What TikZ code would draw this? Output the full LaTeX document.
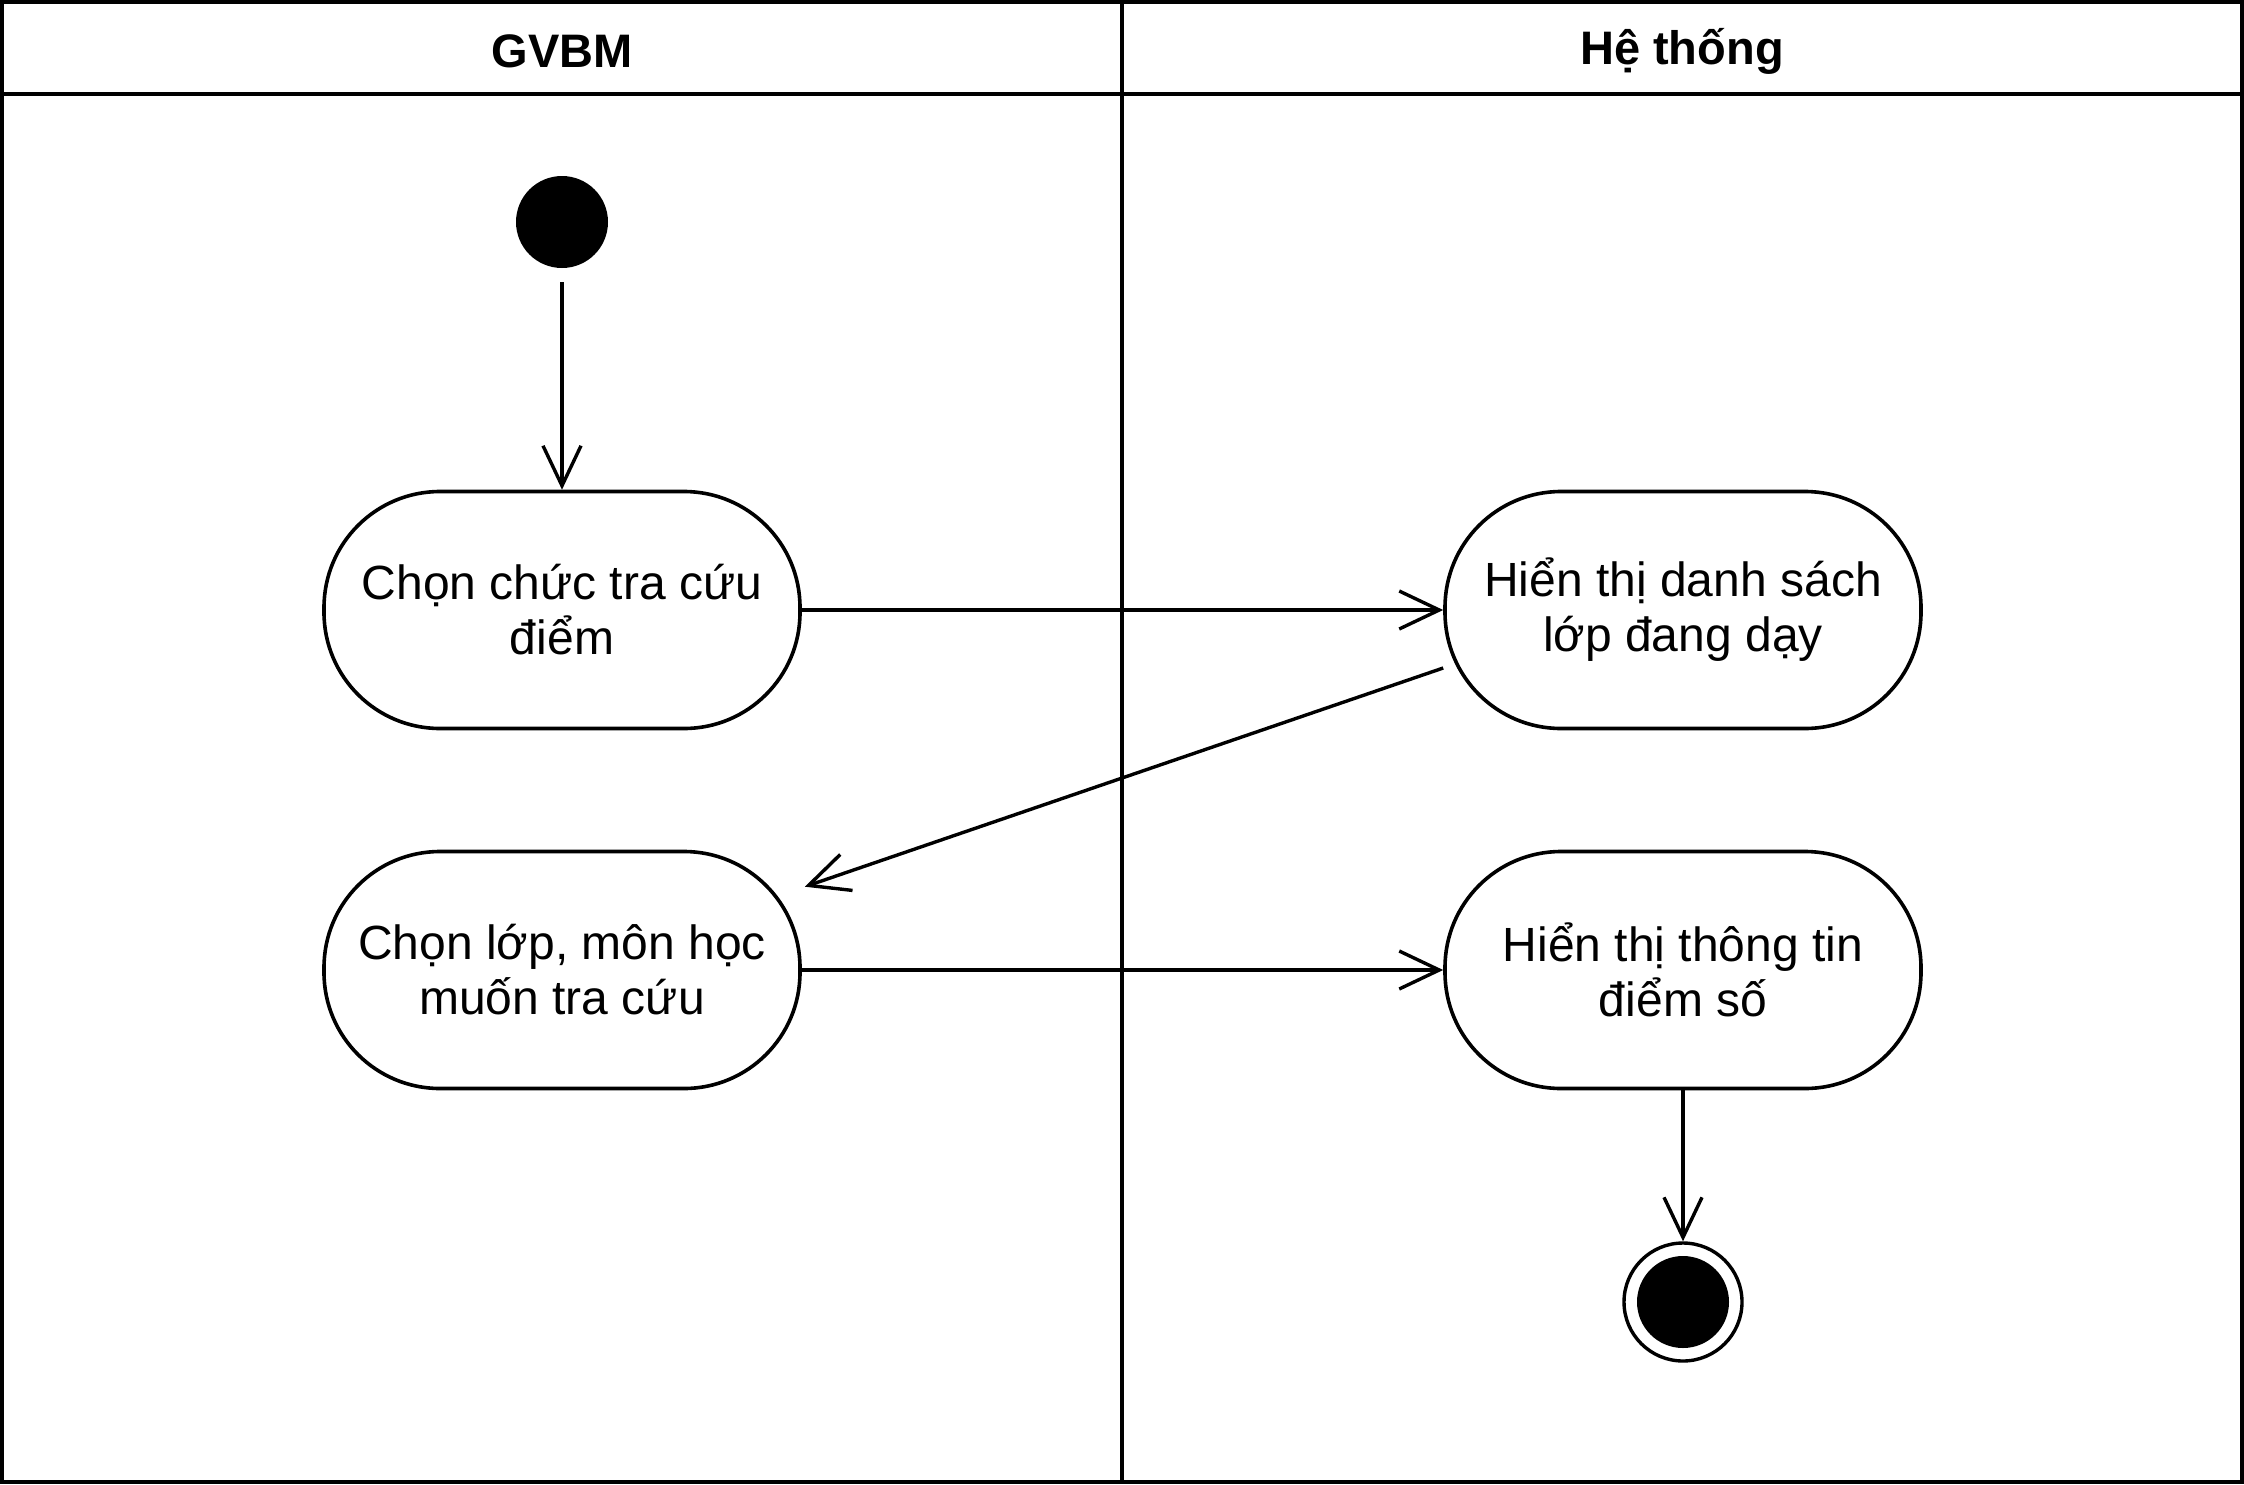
\documentclass[tikz,border=0pt]{standalone}
\usepackage{fontspec}
\setmainfont{Liberation Sans}
\usetikzlibrary{arrows.meta}
\begin{document}
\begin{tikzpicture}[x=0.5pt,y=-0.5pt,
  act/.style={draw,line width=1.8pt,rounded corners=58pt,minimum width=238pt,minimum height=118.5pt,align=center,font=\fontsize{24pt}{27.5pt}\selectfont,inner sep=0pt},
  flow/.style={line width=1.7pt,-{Straight Barb[length=20pt,width=19pt]}},
  lanehead/.style={font=\fontsize{23.5pt}{27pt}\selectfont\bfseries},
  laneframe/.style={line width=2pt}]
\useasboundingbox (0,0) rectangle (2244,1484);
\draw[laneframe] (2,2) rectangle (2242,1482);
\draw[laneframe] (2,94) -- (2242,94);
\draw[laneframe] (1122,2) -- (1122,1482);
\node[lanehead] (h1) at (562,51) {GVBM};
\node[lanehead] (h2) at (1682,51) {Hệ thống};
\node[circle,fill,minimum size=46pt,inner sep=0pt] (start) at (562,222) {};
\node[act] (n1) at (562,610) {Chọn chức tra cứu\\điểm};
\node[act] (n2) at (1683,610) {Hiển thị danh sách\\lớp đang dạy};
\node[act] (n3) at (562,970) {Chọn lớp, môn học\\muốn tra cứu};
\node[act] (n4) at (1683,970) {Hiển thị thông tin\\điểm số};
\node[circle,draw,line width=1.7pt,minimum size=59pt,inner sep=0pt] (end) at (1683,1302) {};
\node[circle,fill,minimum size=46pt,inner sep=0pt] (endin) at (end) {};
\draw[flow,shorten <=7pt] (start) -- (n1);
\draw[flow] (n1) -- (n2);
\draw[flow] ([yshift=-29pt]n2.west) -- ([xshift=1.5pt,yshift=-18.5pt]n3.north east);
\draw[flow] (n3) -- (n4);
\draw[flow] (n4) -- (end);
\end{tikzpicture}
\end{document}
